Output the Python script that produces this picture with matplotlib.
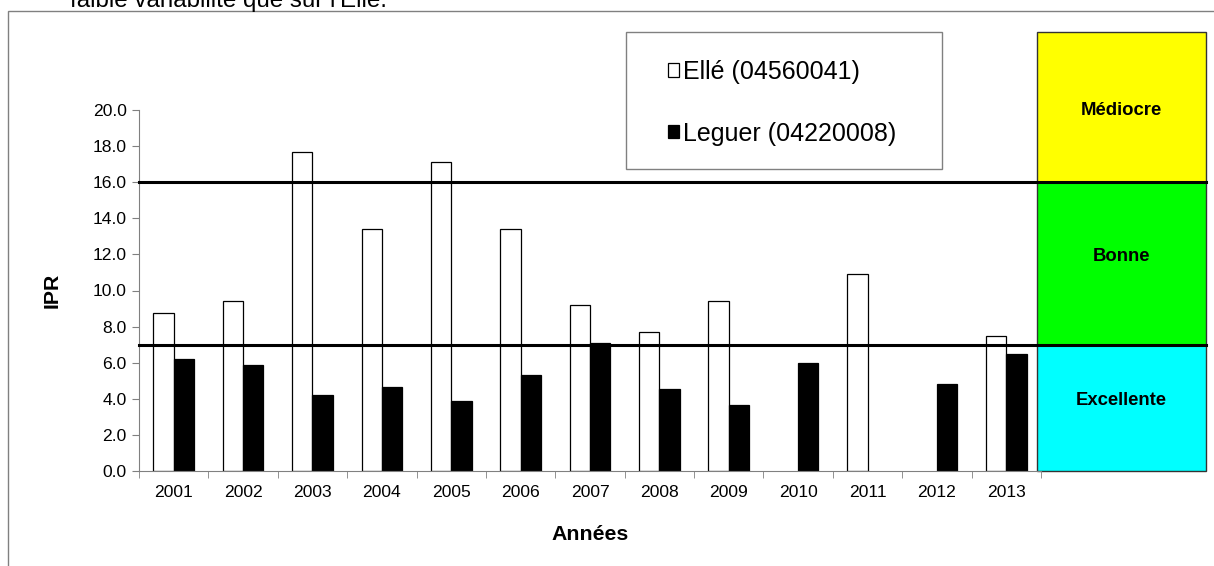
import numpy as np
import matplotlib.pyplot as plt
from matplotlib.patches import Rectangle, Patch
from matplotlib.transforms import blended_transform_factory

plt.rcParams['font.family'] = ['Liberation Sans', 'DejaVu Sans']

annees = ['2001', '2002', '2003', '2004', '2005', '2006', '2007',
          '2008', '2009', '2010', '2011', '2012', '2013']
elle = [8.77, 9.43, 17.69, 13.41, 17.12, 13.42, 9.20,
        7.70, 9.44, np.nan, 10.91, np.nan, 7.46]
leguer = [6.22, 5.89, 4.21, 4.65, 3.86, 5.30, 7.09,
          4.54, 3.68, 6.00, np.nan, 4.80, 6.48]

# classes de qualité IPR
classes = ['Excellente', 'Bonne', 'Médiocre']
bornes = [0, 7, 16, 24.3]
couleurs = ['#00FFFF', '#00FF00', '#FFFF00']
pos_labels = [3.93, 11.9, 19.95]

W, H = 1214, 566
fig = plt.figure(figsize=(W / 100, H / 100), dpi=100)
ax = fig.add_axes([139 / W, 1 - 471 / H, (1041 - 139) / W, (471 - 110) / H])

x = np.arange(len(annees))
lb = 0.293
ax.bar(x - lb / 2, elle, lb, color='white', edgecolor='black', linewidth=0.9,
       label='Ellé (04560041)', zorder=2)
ax.bar(x + lb / 2, leguer, lb, color='black', edgecolor='black', linewidth=0.9,
       label='Leguer (04220008)', zorder=2)

ax.set_xlim(-0.5, len(annees) - 0.5)
ax.set_ylim(0, 20)
ax.set_yticks(np.arange(0, 20.1, 2))
ax.set_yticklabels([f'{v:.1f}' for v in np.arange(0, 20.1, 2)])
ax.set_xticks(x)
ax.set_xticklabels(annees)
ax.set_xticks(np.arange(-0.5, len(annees)), minor=True)
ax.tick_params(axis='x', which='major', length=0, labelsize=12.6, pad=10)
ax.tick_params(axis='x', which='minor', length=5, color='#808080', direction='out')
ax.tick_params(axis='y', length=5, color='#808080', labelsize=12.6, pad=4)
for s in ['top', 'right']:
    ax.spines[s].set_visible(False)
for s in ['left', 'bottom']:
    ax.spines[s].set_color('#808080')

ax.set_xlabel('Années', fontsize=15.3, fontweight='bold', labelpad=18)
ax.set_ylabel('IPR', fontsize=15.3, fontweight='bold', labelpad=22)

# boîtes de couleur à droite
tr = blended_transform_factory(fig.transFigure, ax.transData)
for i in range(3):
    ax.add_patch(Rectangle((1037 / W, bornes[i]), (1206 - 1037) / W,
                           bornes[i + 1] - bornes[i], transform=tr,
                           facecolor=couleurs[i], edgecolor='#333333',
                           linewidth=1, clip_on=False, zorder=1))
    ax.text(1121 / W, pos_labels[i], classes[i], transform=tr, ha='center',
            va='center', fontsize=13.3, fontweight='bold')

# seuils
for seuil in [7, 16]:
    ax.plot([139 / W, 1206 / W], [seuil, seuil], transform=tr, color='black',
            linewidth=2.2, clip_on=False, zorder=3)

# légende
fig.patches.append(Rectangle((626 / W, 1 - 169 / H), (942 - 626) / W, (169 - 32) / H,
                             transform=fig.transFigure, facecolor='white',
                             edgecolor='#808080', linewidth=1))
handles = [Patch(facecolor='white', edgecolor='black', linewidth=0.9),
           Patch(facecolor='black', edgecolor='black', linewidth=0.9)]
fig.legend(handles, ['Ellé (04560041)', 'Leguer (04220008)'],
           loc='upper left', bbox_to_anchor=(668 / W, 1 - 60 / H),
           frameon=False, fontsize=18, handlelength=0.45, handleheight=0.45,
           handletextpad=0.15, labelspacing=1.5, borderpad=0, borderaxespad=0)

# cadre du graphique
fig.patches.append(Rectangle((8 / W, -0.1), 1.2, 1 - 10.7 / H + 0.1,
                             transform=fig.transFigure, facecolor='none',
                             edgecolor='#808080', linewidth=1))

fig.text(70 / W, 1 - 7 / H, "faible variabilité que sur l'Ellé.",
         fontsize=17.4, va='baseline')

fig.savefig('out.png', dpi=100)
